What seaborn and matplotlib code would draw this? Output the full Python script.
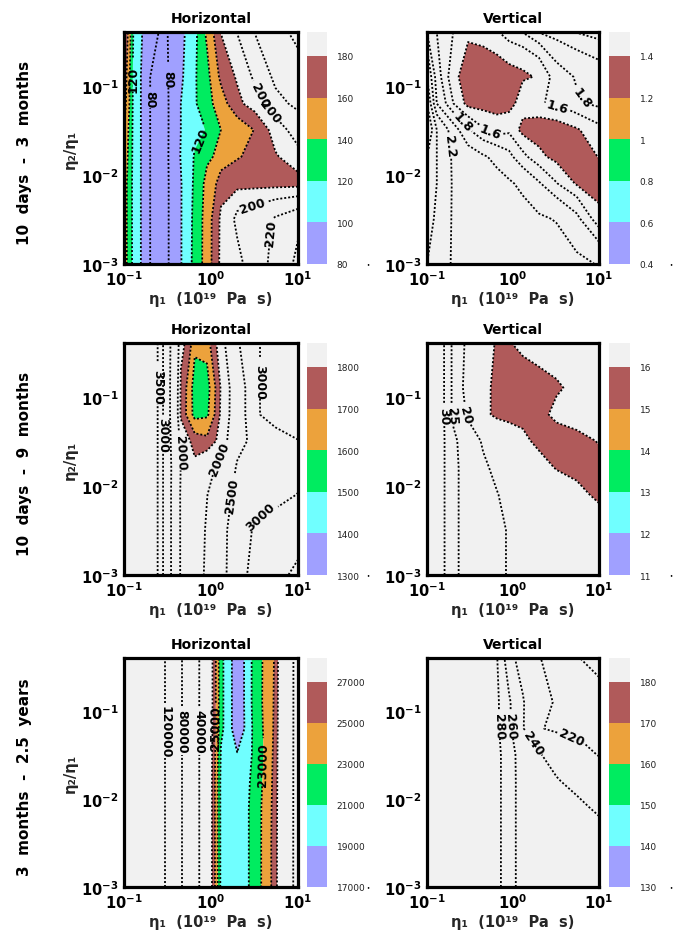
import numpy as np
import matplotlib
matplotlib.use("Agg")
import matplotlib.pyplot as plt
import seaborn as sns
from matplotlib.colors import ListedColormap, BoundaryNorm
from matplotlib.cm import ScalarMappable
from matplotlib.ticker import FixedLocator, FixedFormatter, LogLocator, NullFormatter

# ---------------- data ----------------
ETA1 = [0.1, 0.13, 0.2, 0.3, 0.45, 0.65, 0.9, 1.3, 2.0, 3.2, 5.5, 10.0]          # eta1 (1e19 Pa s)
RATIO = [0.001, 0.0032, 0.008, 0.016, 0.032, 0.063, 0.126, 0.4]                   # eta2/eta1

ROW_LABELS = ["10  days  -  3  months", "10  days  -  9  months", "3  months  -  2.5  years"]

# 10 days - 3 months, horizontal (rows bottom -> top)
H_3M = [
    [150, 112, 80, 76, 99, 127, 150, 185, 196, 210, 228, 245],
    [150, 112, 80, 76, 99, 126, 150, 184, 205, 212, 222, 232],
    [150, 112, 80, 76, 99, 124, 147, 168, 172, 172, 172, 172],
    [155, 112, 80, 76, 101, 122, 135, 148, 158, 168, 178, 195],
    [160, 112, 80, 76, 100, 112, 122, 140, 150, 161, 192, 210],
    [170, 112, 80, 76, 100, 118, 133, 152, 175, 192, 215, 225],
    [175, 112, 80, 77, 97, 118, 135, 165, 183, 205, 225, 235],
    [185, 115, 82, 78, 95, 115, 145, 181, 201, 221, 235, 245],
]
# 10 days - 3 months, vertical
V_3M = [
    [2.4, 2.3, 2.18, 2.16, 2.14, 2.13, 2.12, 2.1, 2.08, 2.06, 2.03, 1.99],
    [2.5, 2.35, 2.18, 2.16, 2.14, 2.12, 2.08, 2.05, 2.02, 1.99, 1.85, 1.45],
    [2.6, 2.4, 2.18, 2.14, 2.1, 2.05, 2.02, 1.96, 1.82, 1.61, 1.37, 1.3],
    [2.6, 2.4, 2.17, 2.1, 2.02, 1.95, 1.85, 1.65, 1.45, 1.32, 1.3, 1.41],
    [2.8, 2.4, 2.1, 1.81, 1.61, 1.5, 1.55, 1.32, 1.28, 1.3, 1.38, 1.55],
    [2.6, 2.0, 1.61, 1.32, 1.3, 1.3, 1.3, 1.55, 1.58, 1.65, 1.78, 1.85],
    [2.4, 1.9, 1.45, 1.3, 1.28, 1.3, 1.33, 1.36, 1.43, 1.72, 1.82, 1.9],
    [2.0, 1.8, 1.61, 1.45, 1.5, 1.58, 1.72, 1.81, 2.01, 2.1, 2.21, 2.3],
]
# 10 days - 9 months, horizontal
H_9M = [
    [5000, 4500, 4080, 2750, 1960, 1880, 2050, 2350, 2850, 3150, 3400, 3600],
    [5000, 4500, 4080, 2750, 1960, 1870, 2030, 2350, 2800, 3050, 3100, 3150],
    [5000, 4500, 4080, 2750, 1960, 1850, 1990, 2300, 2600, 2800, 2900, 3010],
    [5000, 4500, 4080, 2750, 1990, 1830, 1900, 2080, 2550, 2700, 2750, 2800],
    [5000, 4500, 4080, 2750, 1900, 1740, 1720, 1850, 2300, 2700, 2850, 2990],
    [5000, 4500, 4080, 2750, 1770, 1560, 1580, 1820, 2200, 2950, 3200, 3300],
    [5000, 4500, 4080, 2750, 1780, 1550, 1560, 1810, 2200, 2950, 3200, 3300],
    [5000, 4500, 4080, 2750, 1850, 1640, 1660, 1880, 2450, 2950, 3200, 3300],
]
# 10 days - 9 months, vertical
V_9M = [
    [38, 33, 26, 23, 21.5, 20.5, 19.8, 19.2, 18.7, 18.3, 18, 17.8],
    [38, 33, 26, 23, 21.5, 20.5, 19.8, 19, 18.3, 17.6, 17, 16.6],
    [38, 33, 26, 23, 21.2, 20.1, 19.2, 18.2, 17.4, 16.8, 16.3, 15.7],
    [38, 33, 26, 23, 20.5, 19.2, 18.2, 17.2, 16.5, 15.9, 15.6, 15.6],
    [38, 33, 26, 22, 19.5, 18, 17, 16.3, 15.6, 15.5, 15.6, 16.1],
    [40, 34, 24, 19, 16.5, 15.5, 15.4, 15.5, 15.7, 16.3, 16.8, 17.2],
    [40, 34, 24, 17.5, 16.5, 15.5, 15.3, 15.3, 15.5, 15.8, 16.5, 17],
    [40, 34, 24, 18.5, 16.8, 15.8, 15.9, 16.5, 17, 17.5, 18, 18.5],
]
# 3 months - 2.5 years, horizontal
H_25Y = [
    [240000, 200000, 160000, 118000, 82000, 45000, 30000, 20500, 19500, 22000, 26000, 45000],
    [240000, 200000, 160000, 118000, 82000, 45000, 30000, 20500, 19500, 22000, 26000, 45000],
    [240000, 200000, 160000, 118000, 82000, 45000, 30000, 20500, 19500, 22000, 25900, 45000],
    [240000, 200000, 160000, 118000, 82000, 45000, 30000, 20500, 19400, 21800, 25800, 45000],
    [240000, 200000, 160000, 118000, 82000, 45000, 30000, 20800, 19100, 21500, 25700, 45000],
    [240000, 200000, 160000, 118000, 82000, 45000, 30000, 21500, 17500, 21800, 25500, 45000],
    [240000, 200000, 160000, 118000, 82000, 45000, 30000, 21500, 17500, 22000, 25400, 45000],
    [240000, 200000, 160000, 118000, 82000, 45000, 30000, 21500, 17500, 22000, 25300, 45000],
]
# 3 months - 2.5 years, vertical
V_25Y = [
    [310, 305, 300, 295, 290, 285, 268, 250, 249, 248, 247, 246],
    [310, 305, 300, 295, 290, 285, 268, 250, 249, 248, 247, 246],
    [310, 305, 300, 295, 290, 285, 268, 250, 248, 246, 243, 237],
    [310, 305, 300, 295, 290, 285, 268, 250, 245, 241, 235, 230],
    [310, 305, 300, 295, 290, 285, 268, 249, 241, 233, 226, 219],
    [310, 305, 300, 295, 290, 283, 262, 241, 221, 217, 214, 212],
    [310, 305, 300, 295, 290, 283, 262, 241, 226, 218, 212, 206],
    [310, 305, 300, 295, 290, 281, 245, 232, 221, 210, 201, 192],
]

# colour-band boundaries of each colour bar
H_3M_BANDS = [80, 100, 120, 140, 160, 180]
V_3M_BANDS = [0.4, 0.6, 0.8, 1.0, 1.2, 1.4]
H_9M_BANDS = [1300, 1400, 1500, 1600, 1700, 1800]
V_9M_BANDS = [11, 12, 13, 14, 15, 16]
H_25Y_BANDS = [17000, 19000, 21000, 23000, 25000, 27000]
V_25Y_BANDS = [130, 140, 150, 160, 170, 180]

# dotted contour-line levels
H_3M_LINES = [80, 100, 120, 140, 160, 180, 200, 220, 240]
V_3M_LINES = [1.4, 1.6, 1.8, 2.0, 2.2, 2.4, 2.6]
H_9M_LINES = [1500, 1600, 1700, 1800, 2000, 2500, 3000, 3500]
V_9M_LINES = [16, 20, 25, 30]
H_25Y_LINES = [17000, 19000, 21000, 23000, 25000, 27000, 40000, 80000, 120000]
V_25Y_LINES = [180, 200, 220, 240, 260, 280]

BAND_COLORS = ["#a0a0ff", "#70ffff", "#00ec60", "#eca23c", "#b05a5a", "#f1f1f1"]

# where the inline contour labels sit (eta1, eta2/eta1) -- placement only
H_3M_LABEL_AT = [(0.126, 0.12), (0.189, 0.071), (0.376, 0.12), (0.748, 0.025),
                 (4.4, 0.086), (5.2, 0.055), (3.04, 0.0044), (3.96, 0.0023)]
V_3M_LABEL_AT = [(6.0, 0.071), (3.3, 0.062), (0.54, 0.031), (0.242, 0.037), (0.17, 0.021)]
H_9M_LABEL_AT = [(0.24, 0.13), (0.28, 0.038), (0.418, 0.024), (1.27, 0.020),
                 (1.89, 0.0077), (3.96, 0.148), (3.47, 0.0051)]
V_9M_LABEL_AT = [(0.142, 0.061), (0.195, 0.061), (0.262, 0.061)]
H_25Y_LABEL_AT = [(0.296, 0.059), (0.44, 0.059), (0.75, 0.059), (1.17, 0.066), (3.96, 0.025)]
V_25Y_LABEL_AT = [(0.67, 0.068), (0.85, 0.068), (1.49, 0.04), (4.6, 0.045)]

# ---------------- style ----------------
sns.set_theme(style="white")
plt.rcParams.update({
    "font.family": ["DejaVu Sans"],
    "font.weight": "bold",
    "mathtext.fontset": "dejavusans",
    "axes.linewidth": 2.3,
    "axes.edgecolor": "black",
    "text.color": "black",
    "xtick.color": "black",
    "ytick.color": "black",
})

W, H = 682, 945
fig = plt.figure(figsize=(W / 100, H / 100), dpi=100)
fig.patch.set_facecolor("white")

ROWS_PX = [(33, 265), (344, 576), (659, 888)]
AX_L = (124, 174)
AX_R = (427, 172)
CB_L = (307, 20)
CB_R = (609, 21)


def make_axes(x, w, top, bot):
    return fig.add_axes([x / W, 1 - bot / H, w / W, (bot - top) / H])


def contour_panel(ax, cax, Z, bands, lines, label_at, title, ylabel):
    Z = np.array(Z, dtype=float)
    X, Y = np.meshgrid(ETA1, RATIO)
    fill_levels = [min(Z.min(), bands[0]) - 1] + list(bands[1:]) + [Z.max() + 1]
    ax.set_xscale("log")
    ax.set_yscale("log")
    ax.set_xlim(0.1, 10)
    ax.set_ylim(0.001, 0.4)
    ax.contourf(X, Y, Z, levels=fill_levels, colors=BAND_COLORS, antialiased=True)
    cs = ax.contour(X, Y, Z, levels=lines, colors="black", linewidths=1.3)
    cs.set_linestyle((0, (1.1, 1.1)))
    ax.clabel(cs, levels=lines, fmt="%g", fontsize=9, inline=True, inline_spacing=2,
              manual=label_at)
    ax.xaxis.set_major_locator(FixedLocator([0.1, 1, 10]))
    ax.xaxis.set_major_formatter(FixedFormatter([r"$\mathbf{10^{-1}}$", r"$\mathbf{10^{0}}$", r"$\mathbf{10^{1}}$"]))
    ax.yaxis.set_major_locator(FixedLocator([0.001, 0.01, 0.1]))
    ax.yaxis.set_major_formatter(FixedFormatter([r"$\mathbf{10^{-3}}$", r"$\mathbf{10^{-2}}$", r"$\mathbf{10^{-1}}$"]))
    for axis in (ax.xaxis, ax.yaxis):
        axis.set_minor_locator(LogLocator(base=10, subs=np.arange(2, 10)))
        axis.set_minor_formatter(NullFormatter())
    ax.tick_params(which="both", direction="in", top=False, right=False, bottom=True, left=True,
                   width=1.1, labelsize=10.5, pad=4)
    ax.tick_params(which="major", length=7)
    ax.tick_params(which="minor", length=5)
    for s in ax.spines.values():
        s.set_visible(True)
        s.set_linewidth(2.3)
        s.set_color("black")
    ax.set_title(title, fontsize=10, fontweight="bold", pad=7)
    ax.set_xlabel("\u03b7\u2081  (10\u00b9\u2079  Pa  s)", fontsize=10.5, fontweight="bold", labelpad=2)
    if ylabel:
        ax.set_ylabel("\u03b7\u2082/\u03b7\u2081", fontsize=10.5, fontweight="bold", labelpad=2)

    cmap = ListedColormap(BAND_COLORS)
    norm = BoundaryNorm(bands, ncolors=6, extend="max")
    sm = ScalarMappable(norm=norm, cmap=cmap)
    cb = fig.colorbar(sm, cax=cax, extend="max", extendrect=True, extendfrac=0.115, ticks=bands)
    cb.outline.set_visible(False)
    cb.ax.tick_params(length=0, labelsize=6.5, pad=7)
    cb.ax.set_yticklabels([f"{b:g}" for b in bands], fontweight="normal", color="#222222")


PANELS = [
    (H_3M, H_3M_BANDS, H_3M_LINES, H_3M_LABEL_AT, V_3M, V_3M_BANDS, V_3M_LINES, V_3M_LABEL_AT),
    (H_9M, H_9M_BANDS, H_9M_LINES, H_9M_LABEL_AT, V_9M, V_9M_BANDS, V_9M_LINES, V_9M_LABEL_AT),
    (H_25Y, H_25Y_BANDS, H_25Y_LINES, H_25Y_LABEL_AT, V_25Y, V_25Y_BANDS, V_25Y_LINES, V_25Y_LABEL_AT),
]

for i, (top, bot) in enumerate(ROWS_PX):
    hz, hb, hl, hlab, vz, vb, vl, vlab = PANELS[i]
    axl = make_axes(AX_L[0], AX_L[1], top, bot)
    cbl = make_axes(CB_L[0], CB_L[1], top, bot)
    axr = make_axes(AX_R[0], AX_R[1], top, bot)
    cbr = make_axes(CB_R[0], CB_R[1], top, bot)
    contour_panel(axl, cbl, hz, hb, hl, hlab, "Horizontal", True)
    contour_panel(axr, cbr, vz, vb, vl, vlab, "Vertical", False)
    fig.text(25 / W, 1 - ((top + bot) / 2 + 4) / H, ROW_LABELS[i], rotation=90,
             ha="center", va="center", fontsize=11, fontweight="bold")
    for xd in (368, 671):
        fig.text(xd / W, 1 - bot / H, "\u2022", fontsize=3.5, ha="center", va="center")

fig.savefig("out.png", dpi=100, facecolor="white")
